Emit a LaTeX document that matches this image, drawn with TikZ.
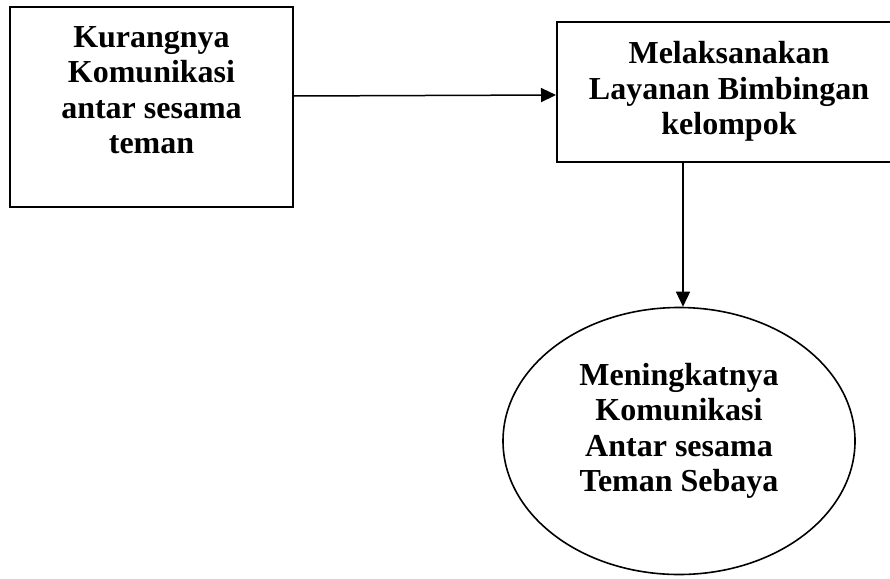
\documentclass[tikz,border=0pt]{standalone}
\usepackage{fontspec}
\setmainfont{Liberation Serif}
\usetikzlibrary{shapes.geometric,arrows.meta}
\begin{document}
\begin{tikzpicture}[x=1pt,y=-1pt,
  boxshape/.style={draw=black,line width=2pt,rectangle,inner sep=0pt},
  ellshape/.style={draw=black,line width=1.6pt,ellipse,inner sep=0pt},
  txt/.style={align=center,inner sep=0pt,font=\bfseries\fontsize{32}{35.5}\selectfont},
  arr/.style={line width=1.5pt,-{Triangle[length=15pt,width=14pt]}}]
\useasboundingbox (0,0) rectangle (890,578);
\clip (0,0) rectangle (890,578);
\node[boxshape,minimum width=283pt,minimum height=200pt] (a) at (151.5,107) {};
\node[txt] (ta) at (151.5,90) {Kurangnya\\Komunikasi\\antar sesama\\teman};
\node[boxshape,minimum width=344pt,minimum height=140pt] (b) at (729,92) {};
\node[txt] (tb) at (729,91.5) {Melaksanakan\\Layanan Bimbingan\\kelompok};
\node[ellshape,minimum width=352pt,minimum height=267pt] (c) at (679,441) {};
\node[txt] (tc) at (679,431) {Meningkatnya\\Komunikasi\\Antar sesama\\Teman Sebaya};
\draw[arr] ([yshift=11pt]a.east) -- ([yshift=-3pt]b.west);
\draw[arr] ([xshift=-46pt]b.south) -- ([xshift=4pt]c.north);
\end{tikzpicture}
\end{document}
